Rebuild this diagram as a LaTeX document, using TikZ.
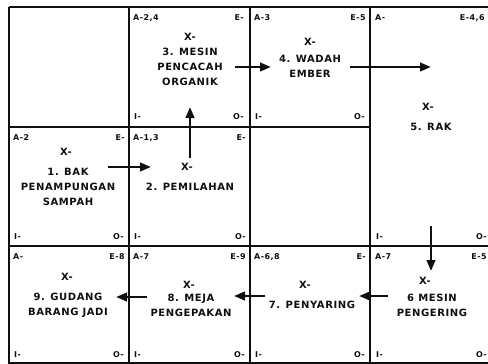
\documentclass[tikz,border=0pt]{standalone}
\usepackage{fontspec}
\usepackage{tikz}
\usetikzlibrary{arrows.meta}
\newfontfamily\cellfont{DejaVu Sans}[LetterSpace=6]
\definecolor{ink}{gray}{0.06}
\tikzset{
  cellline/.style={draw=ink,line width=1.7pt},
  tagw/.style={anchor=west,inner sep=0pt,text=ink,font=\cellfont\bfseries\fontsize{8}{9}\selectfont},
  tage/.style={anchor=east,inner sep=0pt,text=ink,font=\cellfont\bfseries\fontsize{8}{9}\selectfont},
  xmark/.style={inner sep=0pt,text=ink,font=\cellfont\bfseries\fontsize{10}{12}\selectfont},
  ttl/.style={inner sep=0pt,align=center,text=ink,font=\cellfont\bfseries\fontsize{10}{14.8}\selectfont},
  flow/.style={draw=ink,line width=2.5pt,-{Triangle[length=11pt,width=8.5pt]}},
}
\begin{document}
\begin{tikzpicture}[x=1pt,y=-1pt]
  \useasboundingbox (0,0) rectangle (488,364);
  \draw[cellline] (9,7) -- (488,7);
  \draw[cellline] (9,127) -- (370,127);
  \draw[cellline] (9,246) -- (488,246);
  \draw[cellline] (9,363) -- (488,363);
  \draw[cellline] (9,7) -- (9,364);
  \draw[cellline] (129,7) -- (129,364);
  \draw[cellline] (250,7) -- (250,364);
  \draw[cellline] (370,7) -- (370,364);
  \node[tagw] (a3) at (133,18) {A-2,4};
  \node[tage] (e3) at (244,18) {E-};
  \node[tagw] (i3) at (134,117) {I-};
  \node[tage] (o3) at (244,117) {O-};
  \node[xmark] (x3) at (190,37) {X-};
  \node[ttl] (t3) at (190,67) {3. MESIN\\PENCACAH\\ORGANIK};
  \node[tagw] (a4) at (254,18) {A-3};
  \node[tage] (e4) at (366,18) {E-5};
  \node[tagw] (i4) at (255,117) {I-};
  \node[tage] (o4) at (365,117) {O-};
  \node[xmark] (x4) at (310,42) {X-};
  \node[ttl] (t4) at (310,66.5) {4. WADAH\\EMBER};
  \node[tagw] (a5) at (375,18) {A-};
  \node[tage] (e5) at (485,18) {E-4,6};
  \node[tagw] (i5) at (376,237) {I-};
  \node[tage] (o5) at (487,237) {O-};
  \node[xmark] (x5) at (428,107) {X-};
  \node[ttl] (t5) at (431,127) {5. RAK};
  \node[tagw] (a1) at (13,138) {A-2};
  \node[tage] (e1) at (125,138) {E-};
  \node[tagw] (i1) at (14,237) {I-};
  \node[tage] (o1) at (124,237) {O-};
  \node[xmark] (x1) at (66,152) {X-};
  \node[ttl] (t1) at (68,187) {1. BAK\\PENAMPUNGAN\\SAMPAH};
  \node[tagw] (a2) at (133,138) {A-1,3};
  \node[tage] (e2) at (246,138) {E-};
  \node[tagw] (i2) at (134,237) {I-};
  \node[tage] (o2) at (246,237) {O-};
  \node[xmark] (x2) at (187,167) {X-};
  \node[ttl] (t2) at (190,187) {2. PEMILAHAN};
  \node[tagw] (a9) at (13,257) {A-};
  \node[tage] (e9) at (125,257) {E-8};
  \node[tagw] (i9) at (14,355) {I-};
  \node[tage] (o9) at (124,355) {O-};
  \node[xmark] (x9) at (67,277) {X-};
  \node[ttl] (t9) at (68,305.5) {9. GUDANG\\BARANG JADI};
  \node[tagw] (a8) at (133,257) {A-7};
  \node[tage] (e8) at (246,257) {E-9};
  \node[tagw] (i8) at (134,355) {I-};
  \node[tage] (o8) at (245,355) {O-};
  \node[xmark] (x8) at (189,285) {X-};
  \node[ttl] (t8) at (191,305.5) {8. MEJA\\PENGEPAKAN};
  \node[tagw] (a7) at (254,257) {A-6,8};
  \node[tage] (e7) at (366,257) {E-};
  \node[tagw] (i7) at (255,355) {I-};
  \node[tage] (o7) at (365,355) {O-};
  \node[xmark] (x7) at (305,285) {X-};
  \node[ttl] (t7) at (312,305) {7. PENYARING};
  \node[tagw] (a6) at (375,257) {A-7};
  \node[tage] (e6) at (487,257) {E-5};
  \node[tagw] (i6) at (376,355) {I-};
  \node[tage] (o6) at (487,355) {O-};
  \node[xmark] (x6) at (425,281) {X-};
  \node[ttl] (t6) at (432,305.5) {6 MESIN\\PENGERING};
  \coordinate (s12) at (108,167);
  \coordinate (h12) at (151,167);
  \coordinate (s23) at (190,158);
  \coordinate (h23) at (190,107);
  \coordinate (s34) at (235,67);
  \coordinate (h34) at (271,67);
  \coordinate (s45) at (350,67);
  \coordinate (h45) at (431,67);
  \coordinate (s56) at (431,226);
  \coordinate (h56) at (431,271);
  \coordinate (s67) at (388,296);
  \coordinate (h67) at (359,296);
  \coordinate (s78) at (265,296);
  \coordinate (h78) at (234,296);
  \coordinate (s89) at (147,297);
  \coordinate (h89) at (116,297);
  \draw[flow] (s12) -- (h12);
  \draw[flow] (s23) -- (h23);
  \draw[flow] (s34) -- (h34);
  \draw[flow] (s45) -- (h45);
  \draw[flow] (s56) -- (h56);
  \draw[flow] (s67) -- (h67);
  \draw[flow] (s78) -- (h78);
  \draw[flow] (s89) -- (h89);
\end{tikzpicture}
\end{document}
